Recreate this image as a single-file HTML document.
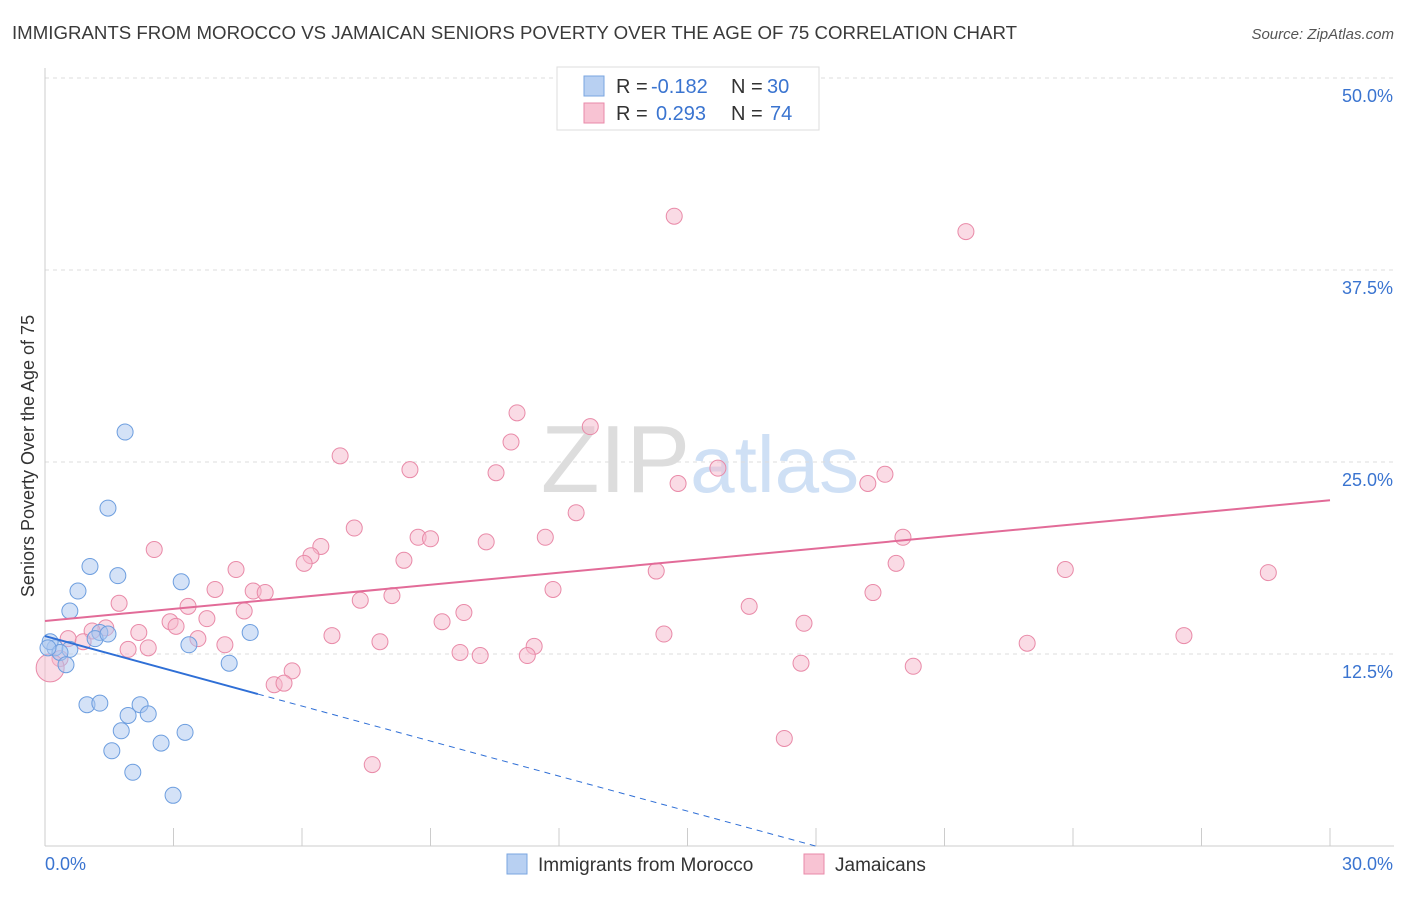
<!DOCTYPE html>
<html><head><meta charset="utf-8"><style>
body{margin:0;background:#fff;font-family:"Liberation Sans",sans-serif;}
svg text{font-family:"Liberation Sans",sans-serif;}
</style></head><body>
<svg id="c" width="1406" height="892">
<text x="12" y="39" font-size="18" fill="#3a3a3a" textLength="1005" lengthAdjust="spacingAndGlyphs">IMMIGRANTS FROM MOROCCO VS JAMAICAN SENIORS POVERTY OVER THE AGE OF 75 CORRELATION CHART</text>
<text x="1394" y="39" font-size="15" fill="#555" font-style="italic" text-anchor="end">Source: ZipAtlas.com</text>
<text x="700" y="492" font-size="96" fill="#ddd" text-anchor="middle" font-family="Liberation Serif">ZIP<tspan fill="#cfe0f5" font-family="Liberation Sans" font-size="80">atlas</tspan></text>
<text transform="translate(34,456) rotate(-90)" font-size="18" fill="#333" text-anchor="middle">Seniors Poverty Over the Age of 75</text>
<g id="grid"></g><g id="marks"></g>
<g>
<rect x="557" y="67" width="262" height="63" fill="#fff" stroke="#ddd"/>
<rect x="584" y="76" width="20" height="20" fill="#b8d0f2" stroke="#7aa6e0"/>
<rect x="584" y="103" width="20" height="20" fill="#f8c3d3" stroke="#e98aa8"/>
<text x="616" y="93" font-size="20" fill="#333">R =</text>
<text x="651" y="93" font-size="20" fill="#3a74d0">-0.182</text>
<text x="731" y="93" font-size="20" fill="#333">N =</text>
<text x="767" y="93" font-size="20" fill="#3a74d0">30</text>
<text x="616" y="120" font-size="20" fill="#333">R =</text>
<text x="656" y="120" font-size="20" fill="#3a74d0">0.293</text>
<text x="731" y="120" font-size="20" fill="#333">N =</text>
<text x="770" y="120" font-size="20" fill="#3a74d0">74</text>
</g>
<g>
<rect x="507" y="854" width="20" height="20" fill="#b8d0f2" stroke="#7aa6e0"/>
<text x="538" y="871" font-size="19" fill="#333">Immigrants from Morocco</text>
<rect x="804" y="854" width="20" height="20" fill="#f8c3d3" stroke="#e98aa8"/>
<text x="835" y="871" font-size="19" fill="#333">Jamaicans</text>
</g>
</svg>
<script>
const blueX=[1.87,1.47,1.05,1.70,0.77,3.18,0.58,4.79,3.36,1.28,1.17,0.58,0.23,0.12,0.35,0.49,4.30,0.98,1.28,2.22,1.94,2.41,1.78,3.27,1.56,2.71,2.05,2.99,0.07,1.47];
const blueY=[26.95,22.0,18.2,17.6,16.6,17.2,15.3,13.9,13.1,13.9,13.5,12.8,12.9,13.3,12.6,11.8,11.9,9.2,9.3,9.2,8.5,8.6,7.5,7.4,6.2,6.7,4.8,3.3,12.9,13.8];
const pinkX=[14.69,21.5,11.02,12.73,10.88,6.89,8.52,10.53,15.71,14.78,19.21,19.61,12.4,7.22,8.71,9.0,10.3,11.68,20.03,2.55,6.44,6.21,6.05,8.38,19.87,4.46,14.27,23.82,28.56,3.97,4.86,5.14,8.1,11.86,19.33,7.36,1.73,3.34,4.65,9.78,16.44,2.92,3.78,3.06,9.27,17.72,1.42,2.19,1.1,3.57,6.7,14.45,26.59,0.54,0.89,7.82,4.2,11.42,22.93,2.41,1.94,9.69,10.16,11.26,0.35,17.65,20.27,0.12,5.77,5.35,5.58,17.26,7.64];
const pinkY=[41.0,40.0,28.2,27.3,26.3,25.4,24.5,24.3,24.6,23.6,23.6,24.2,21.7,20.7,20.1,20.0,19.8,20.1,20.1,19.3,19.5,18.9,18.4,18.6,18.4,18.0,17.9,18.0,17.8,16.7,16.6,16.5,16.3,16.7,16.5,16.0,15.8,15.6,15.3,15.2,15.6,14.6,14.8,14.3,14.6,14.5,14.2,13.9,14.0,13.5,13.7,13.8,13.7,13.5,13.3,13.3,13.1,13.0,13.2,12.9,12.8,12.6,12.4,12.4,12.2,11.9,11.7,11.6,11.4,10.5,10.6,7.0,5.3];
const yTicks=[12.5,25,37.5,50];
const yTickLabels=["12.5%","25.0%","37.5%","50.0%"];
const xTicks=[0,3,6,9,12,15,18,21,24,27,30];
const blueTrend=[13.67,-0.76];const pinkTrend=[14.65,0.262];
const X=v=>45+v/30*1285, Y=v=>846-v/12.5*192;
const NS="http://www.w3.org/2000/svg";
function mk(p,t,a){const e=document.createElementNS(NS,t);for(const k in a)e.setAttribute(k,a[k]);p.appendChild(e);return e;}
const g=document.getElementById('grid'),m=document.getElementById('marks');
yTicks.forEach((v,i)=>{const l=mk(g,'line',{x1:45,x2:1394,y1:Y(v),y2:Y(v),stroke:'#ddd','stroke-dasharray':'4,4'});


const t=mk(g,'text',{x:1393,y:Y(v)+24,'font-size':18,fill:'#3a74d0','text-anchor':'end'});t.textContent=yTickLabels[i];

});
const ax=mk(g,'line',{x1:45,x2:45,y1:68,y2:846,stroke:'#ccc'});


const bx=mk(g,'line',{x1:45,x2:1394,y1:846,y2:846,stroke:'#ccc'});


xTicks.forEach(v=>{const l=mk(g,'line',{x1:X(v),x2:X(v),y1:828,y2:846,stroke:'#ccc'});

});
[[0,"0.0%",'start',45],[30,"30.0%",'end',1393]].forEach(a=>{const t=mk(g,'text',{x:a[3],y:870,'font-size':18,fill:'#3a74d0','text-anchor':a[2]});t.textContent=a[1];

});
pinkX.forEach((x,i)=>{const c=mk(m,'circle',{cx:X(x),cy:Y(pinkY[i]),r:x<0.2?14:8,fill:'#f5b8cb','fill-opacity':0.5,stroke:'#e98aa8','stroke-width':1});

});
blueX.forEach((x,i)=>{const c=mk(m,'circle',{cx:X(x),cy:Y(blueY[i]),r:8,fill:'#a9c6ef','fill-opacity':0.5,stroke:'#6d9edf','stroke-width':1});

});
const bt=x=>blueTrend[0]+blueTrend[1]*x, pt=x=>pinkTrend[0]+pinkTrend[1]*x;
let l=mk(m,'line',{x1:X(0),y1:Y(bt(0)),x2:X(4.97),y2:Y(bt(4.97)),stroke:'#2f6fd6','stroke-width':2});


const xe=-blueTrend[0]/blueTrend[1];
l=mk(m,'line',{x1:X(4.97),y1:Y(bt(4.97)),x2:X(xe),y2:Y(0),stroke:'#2f6fd6','stroke-width':1,'stroke-dasharray':'6,5'});


l=mk(m,'line',{x1:X(0),y1:Y(pt(0)),x2:X(30),y2:Y(pt(30)),stroke:'#e26b98','stroke-width':2});


</script>
</body></html>
